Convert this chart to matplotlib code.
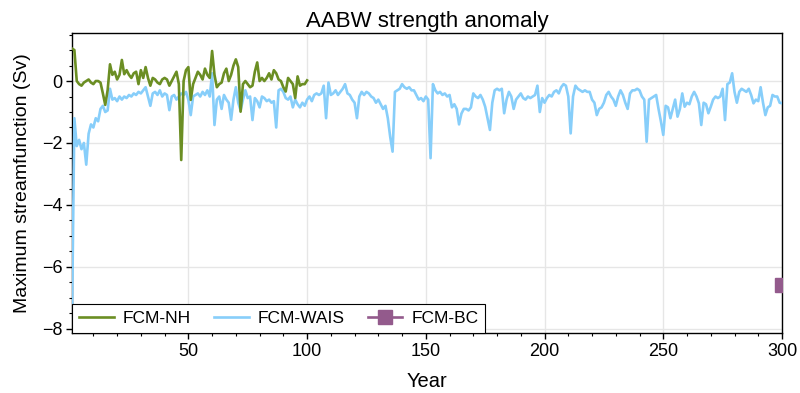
import numpy as np
import matplotlib
matplotlib.use("Agg")
import matplotlib.pyplot as plt
from matplotlib.ticker import MultipleLocator

plt.rcParams['font.family'] = ['Liberation Sans', 'DejaVu Sans']

# Maximum streamfunction anomaly (Sv) per model year
nh = [1.05, 1.0, 0.0, -0.1, -0.15, -0.05, 0.0, 0.05, -0.05, -0.1,
      0.0, 0.0, -0.05, -0.4, -0.77, -0.3, 0.54, 0.2, 0.3, 0.05,
      0.2, 0.68, 0.22, 0.35, 0.2, 0.1, 0.25, 0.3, -0.1, 0.35,
      0.1, 0.45, 0.1, -0.15, 0.1, 0.05, -0.05, -0.1, 0.05, 0.1,
      0.05, -0.15, 0.0, 0.15, 0.3, -0.1, -2.55, 0.0, 0.35, 0.45,
      -0.61, -0.1, 0.1, 0.3, 0.2, 0.05, 0.4, 0.2, 0.1, 0.97,
      0.2, -0.2, -0.1, -0.05, 0.25, 0.4, 0.0, 0.2, 0.5, 0.7,
      0.45, -0.99, -0.1, 0.0, -0.1, -0.2, -0.15, 0.3, 0.6, 0.0,
      0.1, 0.0, 0.1, 0.25, 0.05, 0.35, 0.25, 0.05, 0.0, -0.2,
      -0.34, 0.1, 0.0, -0.1, -0.55, 0.15, -0.15, -0.1, -0.1, 0.02]

wais = [-7.67, -1.2, -2.1, -1.9, -2.2, -2.0, -2.7, -1.7, -1.4, -1.5,
        -1.2, -1.3, -0.9, -0.8, -1.0, -0.95, -0.25, -0.6, -0.55, -0.65,
        -0.5, -0.6, -0.5, -0.55, -0.45, -0.5, -0.4, -0.45, -0.35, -0.4,
        -0.3, -0.2, -0.5, -0.8, -0.4, -0.35, -0.45, -0.3, -0.5, -0.4,
        -0.45, -0.94, -0.5, -0.45, -0.6, -0.5, -0.4, -0.45, -0.35, -0.6,
        -1.1, -0.5, -0.45, -0.4, -0.5, -0.35, -0.45, -0.3, -0.5, 0.25,
        -1.42, -0.6, -0.5, -0.9, -0.45, -0.6, -0.7, -1.25, -0.6, -0.2,
        -0.7, -0.95, -0.6, -0.3, -0.55, -0.5, -1.26, -0.55, -0.65, -0.85,
        -0.5, -0.55, -0.65, -0.6, -0.7, -0.65, -1.5, -0.3, -0.25, -0.35,
        -0.55, -0.6, -0.5, -0.85, -0.6, -0.75, -0.85, -0.7, -0.8, -0.6,
        -0.5, -0.65, -0.45, -0.4, -0.45, -0.4, -0.15, -1.2, -0.05, -0.45,
        -0.4, -0.3, -0.45, -0.35, -0.25, -0.1, -0.4, -0.45, -0.6, -0.7,
        -1.2, -0.5, -0.35, -0.45, -0.35, -0.4, -0.5, -0.55, -0.7, -0.6,
        -0.75, -0.9, -0.8, -1.2, -1.8, -2.28, -0.35, -0.3, -0.25, -0.1,
        -0.2, -0.25, -0.2, -0.3, -0.3, -0.45, -0.6, -0.55, -0.65, -0.5,
        -0.6, -2.49, -0.1, -0.3, -0.4, -0.35, -0.45, -0.4, -0.5, -0.45,
        -0.85, -0.75, -0.9, -1.4, -1.05, -0.9, -0.9, -0.95, -0.85, -0.4,
        -0.5, -0.55, -0.45, -0.6, -0.83, -1.2, -1.58, -0.7, -0.3, -0.25,
        -0.3, -0.25, -1.04, -0.6, -0.35, -0.5, -0.9, -0.6, -0.5, -0.4,
        -0.55, -0.6, -0.5, -0.55, -0.5, -0.45, -0.15, -1.0, -0.55, -0.7,
        -0.55, -0.45, -0.5, -0.35, -0.3, -0.4, -0.2, -0.1, -0.15, -0.5,
        -1.69, -0.5, -0.15, -0.25, -0.3, -0.35, -0.3, -0.35, -0.35, -0.6,
        -0.7, -1.1, -0.9, -0.85, -0.7, -0.45, -0.35, -0.5, -0.6, -0.8,
        -0.5, -0.3, -0.45, -0.7, -0.9, -0.4, -0.3, -0.3, -0.25, -0.3,
        -0.5, -0.6, -1.96, -0.6, -0.55, -0.5, -0.45, -0.9, -1.3, -1.74,
        -0.8, -0.85, -1.2, -0.9, -0.6, -1.15, -0.9, -0.4, -0.83, -0.7,
        -0.75, -0.5, -0.35, -0.5, -0.72, -1.42, -0.7, -0.75, -1.04, -0.83,
        -0.6, -0.5, -0.55, -0.5, -0.25, -1.26, -0.1, -0.05, 0.25, -0.35,
        -0.7, -0.35, -0.25, -0.3, -0.35, -0.25, -0.45, -0.72, -0.6, -0.65,
        -0.2, -0.7, -1.1, -0.85, -0.8, -0.45, -0.5, -0.5, -0.7, -0.72]

bc_years = [300]
bc = [-6.6]

years_nh = np.arange(1, len(nh) + 1)
years_wais = np.arange(1, len(wais) + 1)

fig = plt.figure(figsize=(8.0, 3.93), dpi=100)
ax = fig.add_axes([0.09, 0.153, 0.8875, 0.763])

ax.plot(years_nh, nh, color='#6b8e23', lw=1.9, label='FCM-NH', zorder=4)
ax.plot(years_wais, wais, color='#87cefa', lw=1.9, label='FCM-WAIS', zorder=3)
ax.plot(bc_years, bc, color='#935a8c', lw=1.9, marker='s', markersize=9.5,
        label='FCM-BC', zorder=5)

ax.set_xlim(1, 300)
ax.set_ylim(-8.13, 1.55)
ax.xaxis.set_major_locator(MultipleLocator(50))
ax.xaxis.set_minor_locator(MultipleLocator(10))
ax.yaxis.set_major_locator(MultipleLocator(2))
ax.yaxis.set_minor_locator(MultipleLocator(0.5))
ax.tick_params(which='major', direction='out', length=4, width=1,
               labelsize=13, pad=3)
ax.tick_params(which='minor', direction='out', length=2.5, width=0.8)
ax.grid(True, which='major', color='#e6e6e6', lw=1, zorder=0)
for s in ax.spines.values():
    s.set_linewidth(1)
    s.set_color('black')

ax.set_title('AABW strength anomaly', fontsize=16, pad=4)
ax.set_xlabel('Year', fontsize=14.5, labelpad=9)
ax.set_ylabel('Maximum streamfunction (Sv)', fontsize=14, labelpad=8)

leg = ax.legend(loc='lower left', ncol=3, fontsize=12.5, frameon=True,
                fancybox=False, framealpha=1, edgecolor='black',
                borderaxespad=0, handlelength=2.0, columnspacing=1.35,
                borderpad=0.4, handletextpad=0.5)
leg.get_frame().set_linewidth(0.8)
leg.set_zorder(10)

fig.savefig('out.png', dpi=100)
